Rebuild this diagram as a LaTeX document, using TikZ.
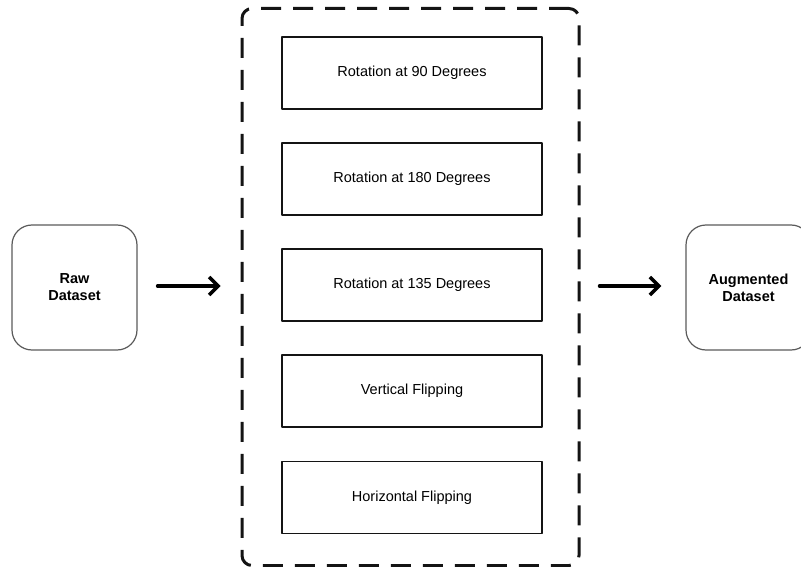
\documentclass[tikz,border=0pt]{standalone}
\usepackage{fontspec}
\setmainfont{Liberation Sans}
\usetikzlibrary{arrows.meta}
\definecolor{edge}{RGB}{90,90,90}
\definecolor{ink}{RGB}{20,20,20}

\tikzset{
  stepbox/.style={draw=ink, line width=1.8pt, minimum width=260pt, minimum height=72pt, inner sep=0pt, font=\fontsize{14.5}{17}\selectfont},
  databox/.style={draw=edge, line width=1.2pt, rounded corners=20pt, minimum width=125pt, minimum height=125pt, inner sep=0pt, align=center, font=\fontsize{14.5}{17}\selectfont\bfseries},
  flow/.style={line width=3.5pt, -{Straight Barb[length=9pt, width=18pt, line width=3.5pt]}, line cap=round, line join=round}
}

\begin{document}
\begin{tikzpicture}[x=1pt, y=-1pt, line join = round]
\useasboundingbox (0,0) rectangle (801,567);

\node[databox] (raw) at (74.5,287.5) {Raw\\Dataset};
\node[databox] (aug) at (748.5,287.5) {Augmented\\Dataset};

\node[draw=ink, line width=3pt, dash pattern=on 20pt off 12pt, rounded corners=10pt, minimum width=337pt, minimum height=557pt, inner sep=0pt] (group) at (410.5,287) {};

\node[stepbox] (rot90) at (412,73) {Rotation at 90 Degrees};
\node[stepbox] (rot180) at (412,179) {Rotation at 180 Degrees};
\node[stepbox] (rot135) at (412,285) {Rotation at 135 Degrees};
\node[stepbox] (vflip) at (412,391) {Vertical Flipping};
\node[stepbox] (hflip) at (412,497.5) {Horizontal Flipping};

\draw[flow, shorten <=20pt, shorten >=20pt] (raw.east |- 0,286) -- (group.west |- 0,286);
\draw[flow, shorten <=19pt, shorten >=24pt] (group.east |- 0,286) -- (aug.west |- 0,286);
\end{tikzpicture}
\end{document}
